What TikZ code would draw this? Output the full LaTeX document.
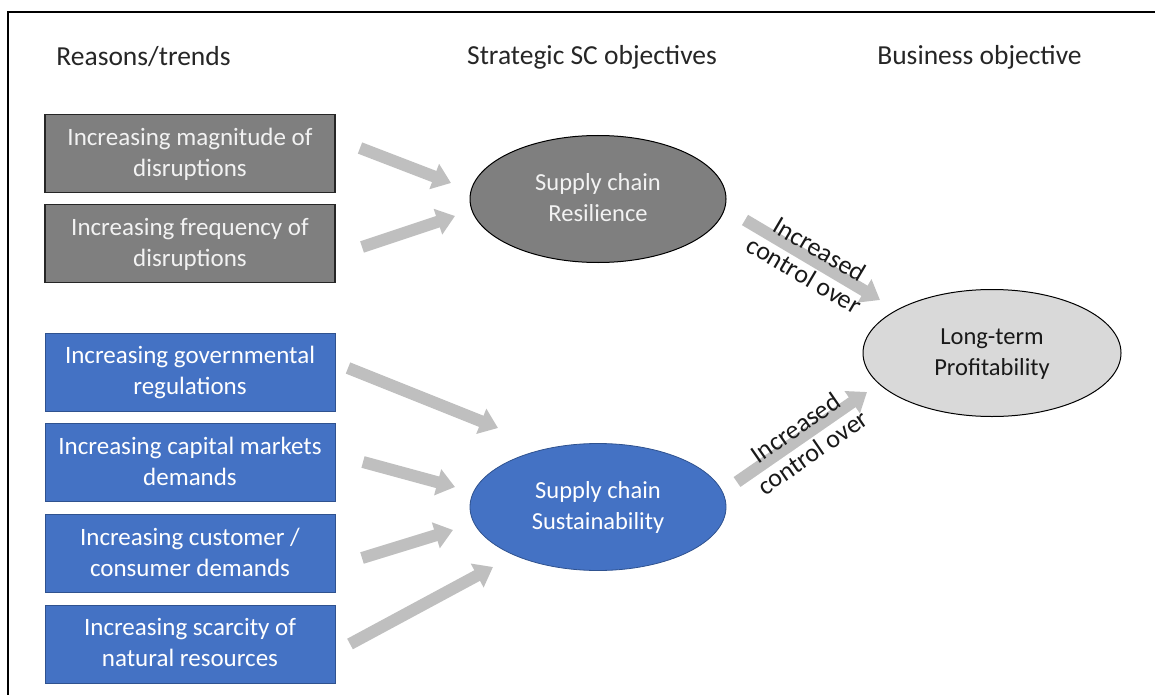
\documentclass[tikz,border=0pt]{standalone}
\usepackage{fontspec}
\setmainfont{Carlito}
\usetikzlibrary{shapes.geometric,arrows.meta}
\definecolor{boxgray}{HTML}{7F7F7F}
\definecolor{boxblue}{HTML}{4472C4}
\definecolor{blueedge}{HTML}{2F528F}
\definecolor{arrowgray}{HTML}{BFBFBF}
\definecolor{lightfill}{HTML}{D9D9D9}
\definecolor{txtlight}{HTML}{F2F2F2}
\tikzset{
  header/.style={font=\fontsize{27.5}{33}\selectfont, text=black!85, inner sep=0pt},
  twoline/.style={text height=45pt, text depth=0pt},
  graybox/.style={draw=black!85, line width=1.3pt, fill=boxgray, minimum width=290pt, minimum height=78pt,
    align=center, text=txtlight, font=\fontsize{25}{31}\selectfont, inner sep=0pt, twoline},
  bluebox/.style={draw=blueedge, line width=0.8pt, fill=boxblue, minimum width=290pt, minimum height=78pt,
    align=center, text=white, font=\fontsize{25}{31}\selectfont, inner sep=0pt, twoline},
  ell/.style={ellipse, minimum width=256pt, minimum height=127pt, inner sep=0pt, align=center,
    font=\fontsize{24.5}{31}\selectfont, twoline},
  blockarrow/.style={draw=arrowgray, line width=12pt, -{Triangle[width=26pt,length=18pt]}, arrowgray},
  arrowlabel/.style={align=center, font=\fontsize{26}{30}\selectfont, text=black!90, inner sep=0pt}
}
\begin{document}
\begin{tikzpicture}[x=1pt,y=-1pt]
\useasboundingbox (0,0) rectangle (1155,695);
\draw[line width=2pt] (8,695) -- (8,12) -- (1155,12);

\node[header] (h1) at (143.5,57) {Reasons/trends};
\node[header] (h2) at (592,57) {Strategic SC objectives};
\node[header] (h3) at (979.5,57) {Business objective};

\node[graybox] (b1) at (190,153.5) {Increasing magnitude of\\disruptions};
\node[graybox] (b2) at (190,243.5) {Increasing frequency of\\disruptions};
\node[bluebox] (b3) at (190,372) {Increasing governmental\\regulations};
\node[bluebox] (b4) at (190,462.5) {Increasing capital markets\\demands};
\node[bluebox] (b5) at (190,553.5) {Increasing customer /\\consumer demands};
\node[bluebox] (b6) at (190,644) {Increasing scarcity of\\natural resources};

\node[ell, fill=boxgray, draw=black, line width=1pt, text=txtlight] (res) at (598,199) {Supply chain\\Resilience};
\node[ell, fill=boxblue, draw=blueedge, line width=0.8pt, text=white] (sus) at (598,507) {Supply chain\\Sustainability};
\node[ell, fill=lightfill, draw=black, line width=1pt, text=black!90, minimum width=258pt] (prof) at (992,353) {Long-term\\Profitability};

% arrow end points
\coordinate (a1s) at (360,148); \coordinate (a1e) at (451,183);
\coordinate (a2s) at (362,247); \coordinate (a2e) at (455,216);
\coordinate (a3s) at (348,368); \coordinate (a3e) at (498,428);
\coordinate (a4s) at (363,462); \coordinate (a4e) at (455,487);
\coordinate (a5s) at (362,558); \coordinate (a5e) at (453,530);
\coordinate (a6s) at (350,644); \coordinate (a6e) at (493,567);
\coordinate (a7s) at (745,220); \coordinate (a7e) at (880,300);
\coordinate (a8s) at (737,482); \coordinate (a8e) at (867,392);

\draw[blockarrow] (a1s) -- (a1e);
\draw[blockarrow] (a2s) -- (a2e);
\draw[blockarrow] (a3s) -- (a3e);
\draw[blockarrow] (a4s) -- (a4e);
\draw[blockarrow] (a5s) -- (a5e);
\draw[blockarrow] (a6s) -- (a6e);
\draw[blockarrow] (a7s) -- (a7e);
\draw[blockarrow] (a8s) -- (a8e);

\node[arrowlabel, rotate=-30.6] (l1) at (812,262) {Increased\\control over};
\node[arrowlabel, rotate=34.7] (l2) at (804,440) {Increased\\control over};
\end{tikzpicture}
\end{document}
